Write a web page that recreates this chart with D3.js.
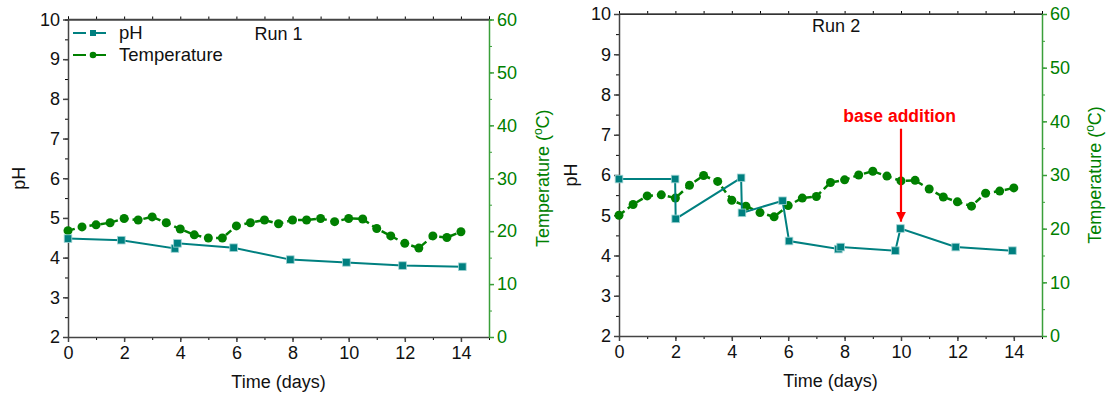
<!DOCTYPE html>
<html lang="en">
<head>
<meta charset="UTF-8">
<script src="https://d3js.org/d3.v7.min.js"></script>
<style>
  body { margin: 0; background: #fff; }
  svg { display: block; font-family: Arial, "Liberation Sans", sans-serif; }
  .tick text { font-size: 18px; }
</style>
</head>
<body>
<svg width="1110" height="396"></svg>
<script>
// Run 1
const phDays1 = [0, 1.9, 3.81, 3.9, 5.9, 7.92, 9.92, 11.92, 14.05];
const ph1 = [4.48, 4.44, 4.23, 4.36, 4.25, 3.95, 3.88, 3.8, 3.77];
const tDays = [0, 0.5, 1, 1.5, 2, 2.5, 3, 3.5, 4, 4.5, 5, 5.5, 6, 6.5, 7, 7.5, 8, 8.5, 9, 9.5, 10, 10.5, 11, 11.5, 12, 12.5, 13, 13.5, 14];
const temp1 = [20.1, 20.8, 21.2, 21.6, 22.4, 22.1, 22.7, 21.6, 20.4, 19.3, 18.7, 18.7, 21.0, 21.6, 22.1, 21.4,
               22.1, 22.1, 22.4, 21.8, 22.4, 22.3, 20.5, 19.1, 17.7, 16.8, 19.1, 18.8, 19.9];
// Run 2
const phDays2 = [0, 1.99, 2.01, 4.33, 4.36, 5.8, 6.03, 7.78, 7.86, 9.8, 9.98, 11.94, 13.95];
const ph2 = [5.9, 5.9, 4.91, 5.93, 5.06, 5.36, 4.36, 4.16, 4.21, 4.12, 4.67, 4.21, 4.12];
const temp2 = [22.5, 24.5, 26.1, 26.3, 25.7, 28.1, 29.9, 28.8, 25.3, 24.2, 23.0, 22.2, 24.3, 25.7,
               26.0, 28.6, 29.1, 30.0, 30.7, 29.8, 28.9, 29.0, 27.4, 25.9, 25.0, 24.2, 26.6, 27.0, 27.6];

const phTicks = [2, 3, 4, 5, 6, 7, 8, 9, 10];
const tempTicks = [0, 10, 20, 30, 40, 50, 60];
const dayTicks = [0, 2, 4, 6, 8, 10, 12, 14];

const phColor = "#008080";
const tColor = "#008000";
const svg = d3.select("svg");

function drawPanel(p) {
  const g = svg.append("g");
  const x = d3.scaleLinear().domain([0, 15]).range([p.x0, p.x1]);
  const y = d3.scaleLinear().domain([2, 10]).range([p.y1, p.y0]);
  const yt = d3.scaleLinear().domain([0, 60]).range([p.y1, p.y0]);

  // minor ticks
  const minor = (axis, vals) => axis.tickValues(vals).tickSize(3).tickFormat("");
  g.append("g").attr("transform", `translate(0,${p.y1})`)
    .call(minor(d3.axisBottom(x), d3.range(0, 16, 1)));
  g.append("g").attr("transform", `translate(0,${p.y0})`)
    .call(minor(d3.axisTop(x), d3.range(0, 16, 1)));
  g.append("g").attr("transform", `translate(${p.x0},0)`)
    .call(minor(d3.axisLeft(y), d3.range(2, 10.01, 0.5)));
  const rMinor = g.append("g").attr("transform", `translate(${p.x1},0)`)
    .call(minor(d3.axisRight(yt), d3.range(0, 61, 5)));
  rMinor.selectAll("line,path").attr("stroke", "#3a9f3a");

  // major axes
  const xa = g.append("g").attr("transform", `translate(0,${p.y1})`)
    .call(d3.axisBottom(x).tickValues(dayTicks).tickSize(5).tickSizeOuter(0).tickPadding(4));
  const ya = g.append("g").attr("transform", `translate(${p.x0},0)`)
    .call(d3.axisLeft(y).tickValues(phTicks).tickSize(5).tickSizeOuter(0).tickPadding(3));
  const ta = g.append("g").attr("transform", `translate(${p.x1},0)`)
    .call(d3.axisRight(yt).tickValues(tempTicks).tickSize(5).tickSizeOuter(0).tickPadding(3));
  g.append("line").attr("x1", p.x0).attr("x2", p.x1).attr("y1", p.y0).attr("y2", p.y0)
    .attr("stroke", "#444").attr("stroke-width", 1.5);
  [xa, ya].forEach(a => {
    a.selectAll("path,line").attr("stroke", "#444").attr("stroke-width", 1.5);
    a.selectAll("text").attr("fill", "#111");
  });
  ta.selectAll("path,line").attr("stroke", "#3a9f3a").attr("stroke-width", 1.5);
  ta.selectAll("text").attr("fill", tColor);

  // temperature
  const tPts = tDays.map((d, i) => [d, p.temp[i]]);
  g.append("path").datum(tPts)
    .attr("fill", "none").attr("stroke", tColor).attr("stroke-width", 2.5)
    .attr("stroke-dasharray", "7,4")
    .attr("d", d3.line().x(d => x(d[0])).y(d => yt(d[1])));
  g.selectAll(null).data(tPts).enter().append("circle")
    .attr("cx", d => x(d[0])).attr("cy", d => yt(d[1])).attr("r", 4.5)
    .attr("fill", tColor);

  // pH
  const pPts = p.phDays.map((d, i) => [d, p.ph[i]]);
  g.append("path").datum(pPts)
    .attr("fill", "none").attr("stroke", phColor).attr("stroke-width", 2)
    .attr("d", d3.line().x(d => x(d[0])).y(d => y(d[1])));
  g.selectAll(null).data(pPts).enter().append("rect")
    .attr("x", d => x(d[0]) - 3.8).attr("y", d => y(d[1]) - 3.8)
    .attr("width", 7.6).attr("height", 7.6)
    .attr("fill", phColor).attr("stroke", "#9fd3d3").attr("stroke-width", 0.8);

  // axis titles
  g.append("text").attr("x", (p.x0 + p.x1) / 2).attr("y", p.y1 + 51)
    .attr("text-anchor", "middle").attr("font-size", 18).attr("fill", "#111")
    .text("Time (days)");
  g.append("text").attr("transform", `translate(${p.phLabelX},${(p.y0 + p.y1) / 2}) rotate(-90)`)
    .attr("text-anchor", "middle").attr("font-size", 18).attr("fill", "#111").text("pH");
  const tl = g.append("text")
    .attr("transform", `translate(${p.tLabelX},${(p.y0 + p.y1) / 2}) rotate(-90)`)
    .attr("text-anchor", "middle").attr("font-size", 18).attr("fill", tColor);
  tl.append("tspan").text("Temperature (");
  tl.append("tspan").attr("font-size", 12).attr("dy", -7).text("o");
  tl.append("tspan").attr("dy", 7).text("C)");

  g.append("text").attr("x", x(p.runX)).attr("y", p.runY)
    .attr("text-anchor", "middle").attr("font-size", 18).attr("fill", "#111").text(p.title);
  return { g, x, y };
}

const left = drawPanel({
  x0: 68, x1: 489, y0: 19.5, y1: 337,
  phDays: phDays1, ph: ph1, temp: temp1,
  phLabelX: 25, tLabelX: 549, title: "Run 1", runX: 7.5, runY: 40
});
const right = drawPanel({
  x0: 619, x1: 1042, y0: 14, y1: 336,
  phDays: phDays2, ph: ph2, temp: temp2,
  phLabelX: 577, tLabelX: 1101, title: "Run 2", runX: 7.7, runY: 32
});

// legend (Run 1)
const legend = [
  { label: "pH", color: phColor, shape: "square", y: 33 },
  { label: "Temperature", color: tColor, shape: "circle", y: 55 }
];
legend.forEach(l => {
  const gl = left.g.append("g");
  gl.append("line").attr("x1", 73).attr("x2", 113).attr("y1", l.y).attr("y2", l.y)
    .attr("stroke", l.color).attr("stroke-width", 2)
    .attr("stroke-dasharray", "13,7");
  if (l.shape === "square") {
    gl.append("rect").attr("x", 90).attr("y", l.y - 3).attr("width", 6).attr("height", 6).attr("fill", l.color);
  } else {
    gl.append("circle").attr("cx", 93).attr("cy", l.y).attr("r", 3.3).attr("fill", l.color);
  }
  gl.append("text").attr("x", 119).attr("y", l.y + 6).attr("font-size", 18.5).attr("fill", "#111").text(l.label);
});

// annotation (Run 2)
const ax = right.x, ay = right.y;
svg.append("defs").append("marker").attr("id", "arr")
  .attr("viewBox", "0 0 10 10").attr("refX", 10).attr("refY", 5)
  .attr("markerWidth", 4.5).attr("markerHeight", 4.5).attr("markerUnits", "strokeWidth")
  .attr("orient", "auto")
  .append("path").attr("d", "M0,0 L10,5 L0,10 Z").attr("fill", "red");
right.g.append("line").attr("x1", ax(10)).attr("x2", ax(10))
  .attr("y1", ay(7.15)).attr("y2", ay(4.84))
  .attr("stroke", "red").attr("stroke-width", 2.2).attr("marker-end", "url(#arr)");
right.g.append("text").attr("x", ax(9.95)).attr("y", ay(7.32))
  .attr("text-anchor", "middle").attr("font-size", 17.5).attr("font-weight", "bold")
  .attr("fill", "red").text("base addition");
</script>
</body>
</html>
